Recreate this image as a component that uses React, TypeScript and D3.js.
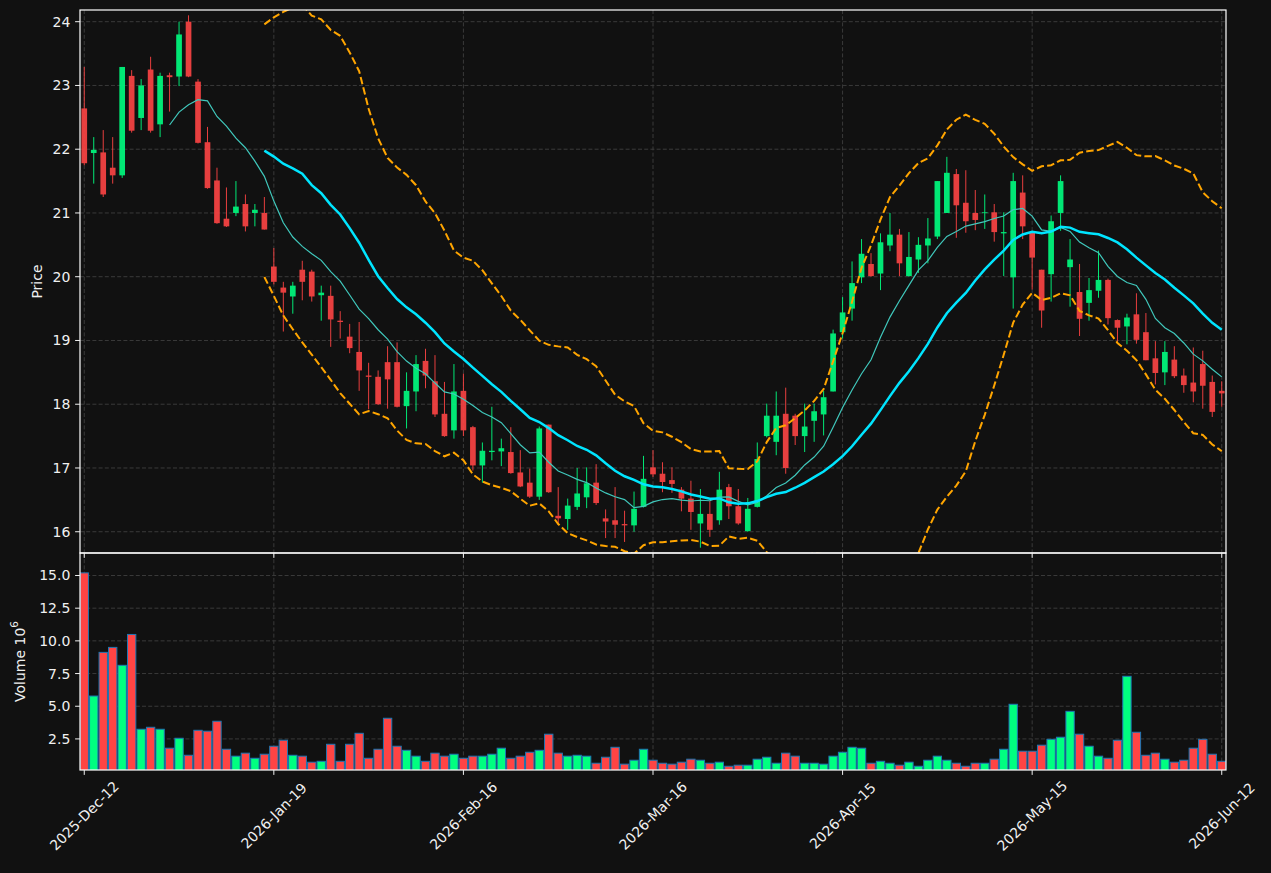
import React, { useEffect } from 'react';
import * as d3 from 'd3';

// ---- Data ----
const opens = [22.64, 21.94, 21.95, 21.71, 21.59, 23.15, 22.49, 23.25, 22.39, 23.16,
  23.14, 24.00, 23.06, 22.11, 21.51, 20.91, 21.00, 21.14, 21.00, 21.00,
  20.16, 19.83, 19.69, 20.11, 20.08, 19.71, 19.70, 19.31, 19.06, 18.82,
  18.45, 18.43, 18.66, 18.66, 17.97, 18.20, 18.68, 18.36, 17.85, 17.59,
  18.21, 17.64, 17.04, 17.25, 17.26, 17.25, 16.93, 16.77, 16.55, 17.68,
  16.25, 16.20, 16.39, 16.54, 16.77, 16.21, 16.18, 16.12, 16.10, 16.39,
  17.01, 16.91, 16.81, 16.66, 16.52, 16.13, 16.28, 16.18, 16.70, 16.40,
  16.01, 16.39, 17.50, 17.41, 17.85, 17.82, 17.50, 17.74, 17.84, 18.20,
  19.13, 19.50, 19.99, 20.20, 20.05, 20.49, 20.66, 20.01, 20.27, 20.49,
  20.63, 21.00, 21.61, 21.16, 21.00, 21.00, 21.01, 20.68, 19.99, 21.32,
  20.69, 20.11, 20.04, 21.00, 20.15, 19.76, 19.59, 19.78, 19.95, 19.32,
  19.22, 19.41, 19.13, 18.72, 18.50, 18.70, 18.45, 18.34, 18.63, 18.35,
  18.21];
const highs = [23.29, 22.19, 22.30, 22.19, 23.29, 23.24, 23.10, 23.45, 23.20, 23.20,
  24.00, 24.10, 23.10, 22.35, 21.71, 21.40, 21.50, 21.29, 21.14, 21.25,
  20.45, 19.92, 19.92, 20.25, 20.11, 19.86, 19.86, 19.46, 19.26, 19.29,
  18.65, 18.53, 18.91, 18.97, 18.50, 18.77, 18.87, 18.77, 18.35, 18.63,
  18.48, 17.66, 17.40, 17.96, 17.46, 17.64, 17.28, 16.99, 17.65, 17.68,
  16.70, 16.52, 17.00, 17.01, 17.06, 16.35, 16.70, 16.33, 16.63, 17.19,
  17.28, 17.09, 17.01, 16.70, 16.80, 16.67, 16.48, 16.94, 16.75, 16.67,
  16.53, 17.40, 18.01, 18.20, 18.26, 17.85, 18.01, 18.01, 18.21, 19.17,
  19.68, 20.24, 20.59, 20.37, 20.68, 21.00, 20.75, 20.70, 20.62, 20.92,
  21.50, 21.88, 21.69, 21.67, 21.36, 21.29, 21.14, 21.01, 21.63, 21.59,
  20.70, 20.11, 20.96, 21.59, 20.59, 20.20, 19.98, 20.41, 19.97, 19.33,
  19.42, 19.74, 19.43, 18.99, 18.99, 18.91, 18.56, 18.89, 18.84, 18.45,
  18.36];
const lows = [21.75, 21.46, 21.25, 21.46, 21.55, 22.26, 22.30, 22.26, 22.19, 22.59,
  22.99, 23.13, 22.09, 21.38, 20.83, 20.78, 20.95, 20.71, 20.79, 20.74,
  19.88, 19.14, 19.42, 19.63, 19.61, 19.31, 18.90, 19.03, 18.80, 18.21,
  17.92, 17.99, 17.93, 17.95, 17.62, 17.89, 18.25, 17.80, 17.49, 17.46,
  17.50, 16.96, 16.77, 17.12, 17.03, 16.91, 16.70, 16.53, 16.50, 16.61,
  16.11, 16.03, 16.34, 16.37, 16.42, 15.90, 15.90, 15.84, 16.00, 16.38,
  16.86, 16.62, 16.61, 16.32, 16.03, 15.75, 15.92, 16.11, 16.20, 16.11,
  16.00, 16.38, 17.48, 17.20, 16.91, 17.36, 17.25, 17.41, 17.51, 18.20,
  19.03, 19.31, 19.90, 20.00, 19.79, 20.40, 20.01, 20.00, 20.06, 20.21,
  20.59, 21.00, 20.61, 20.69, 20.73, 20.75, 20.55, 20.01, 19.50, 20.59,
  19.80, 19.20, 19.61, 20.72, 19.53, 19.07, 19.31, 19.67, 19.25, 18.98,
  18.94, 18.95, 18.69, 18.31, 18.30, 18.41, 18.18, 18.03, 17.93, 17.80,
  17.96];
const closes = [21.78, 21.99, 21.29, 21.59, 23.29, 22.29, 23.00, 22.29, 23.15, 23.13,
  23.80, 23.14, 22.10, 21.39, 20.84, 20.79, 21.10, 20.79, 21.05, 20.74,
  19.92, 19.75, 19.86, 19.92, 19.69, 19.75, 19.33, 19.29, 18.88, 18.53,
  18.43, 18.00, 18.39, 17.96, 18.21, 18.63, 18.45, 17.84, 17.50, 18.20,
  17.59, 17.04, 17.27, 17.27, 17.31, 16.92, 16.71, 16.55, 17.62, 16.62,
  16.21, 16.41, 16.60, 16.76, 16.45, 16.16, 16.11, 16.10, 16.36, 16.83,
  16.90, 16.78, 16.75, 16.52, 16.31, 16.28, 16.03, 16.66, 16.40, 16.13,
  16.36, 17.14, 17.82, 17.82, 17.00, 17.50, 17.65, 17.89, 18.11, 19.11,
  19.44, 19.90, 20.36, 20.01, 20.54, 20.66, 20.21, 20.31, 20.50, 20.60,
  21.50, 21.63, 21.12, 20.87, 20.89, 21.01, 20.70, 20.70, 21.50, 20.79,
  20.30, 19.47, 20.87, 21.50, 20.27, 19.34, 19.79, 19.95, 19.35, 19.20,
  19.36, 19.01, 18.69, 18.49, 18.82, 18.44, 18.30, 18.20, 18.29, 17.88,
  18.17];
// volume in millions
const volumes = [15.2, 5.78, 9.12, 9.50, 8.13, 10.49, 3.24, 3.39, 3.24, 1.79,
  2.55, 1.25, 3.16, 3.09, 3.85, 1.71, 1.18, 1.41, 1.02, 1.33,
  1.94, 2.40, 1.25, 1.18, 0.72, 0.79, 2.09, 0.79, 2.09, 2.93,
  1.02, 1.71, 4.08, 1.94, 1.63, 1.18, 0.79, 1.41, 1.18, 1.33,
  1.02, 1.18, 1.18, 1.33, 1.79, 1.02, 1.18, 1.48, 1.63, 2.86,
  1.41, 1.18, 1.25, 1.18, 0.64, 1.10, 1.86, 0.57, 0.87, 1.71,
  0.87, 0.64, 0.57, 0.72, 0.95, 0.87, 0.64, 0.72, 0.41, 0.49,
  0.49, 0.95, 1.10, 0.64, 1.41, 1.18, 0.64, 0.64, 0.57, 1.18,
  1.48, 1.86, 1.79, 0.64, 0.79, 0.64, 0.49, 0.72, 0.41, 0.87,
  1.18, 0.87, 0.64, 0.41, 0.64, 0.64, 0.95, 1.71, 5.15, 1.56,
  1.56, 2.02, 2.47, 2.63, 4.61, 2.86, 1.94, 1.18, 1.02, 2.40,
  7.29, 3.01, 1.25, 1.41, 0.95, 0.72, 0.87, 1.79, 2.47, 1.33,
  0.79];
const tickIndex = [0, 20, 40, 60, 80, 100, 120];
const tickLabels = ['2025-Dec-12', '2026-Jan-19', '2026-Feb-16', '2026-Mar-16', '2026-Apr-15', '2026-May-15', '2026-Jun-12'];
const priceTicks = [16, 17, 18, 19, 20, 21, 22, 23, 24];
const volumeTicks = [2.5, 5.0, 7.5, 10.0, 12.5, 15.0];
const shortPeriod = 10;
const longPeriod = 20;

// ---- Layout / style ----
const W = 1271, H = 873;
const L = 80, R = 1226, PT = 10, PB = 553, VB = 770;
const BG = '#111111';
const UP = '#00ff80';
const DOWN = '#ff4444';
const TXT = '#f0f0f0';
const GRID = '#3a3a3a';
const FONT = 'DejaVu Sans, sans-serif';
const FS = 14;

function sma(vals: number[], p: number): (number | null)[] {
  return vals.map((_, i) => (i < p - 1 ? null : d3.mean(vals.slice(i - p + 1, i + 1)) as number));
}
function sstd(vals: number[], p: number): (number | null)[] {
  return vals.map((_, i) => (i < p - 1 ? null : d3.deviation(vals.slice(i - p + 1, i + 1)) as number));
}

export default function App() {
  useEffect(() => {
    document.body.style.margin = '0';
    document.body.style.background = BG;
  }, []);

  const n = closes.length;
  const x = d3.scaleLinear().domain([-0.45, n - 1 + 0.45]).range([L, R]);
  const lo = d3.min(lows) as number, hi = d3.max(highs) as number;
  const pad = (hi - lo) * 0.01;
  const y = d3.scaleLinear().domain([lo - pad, hi + pad]).range([PB, PT]);
  const vy = d3.scaleLinear()
    .domain([0.3 * (d3.min(volumes) as number), 1.1 * (d3.max(volumes) as number)])
    .range([VB, PB]);
  const step = x(1) - x(0);
  const bodyW = step * 0.6;
  const volW = step * 0.88;

  const maS = sma(closes, shortPeriod);
  const maL = sma(closes, longPeriod);
  const sd = sstd(closes, longPeriod);
  const upper = maL.map((m, i) => (m == null ? null : m + 2 * (sd[i] as number)));
  const lower = maL.map((m, i) => (m == null ? null : m - 2 * (sd[i] as number)));

  const line = d3.line<number | null>()
    .defined(d => d != null)
    .x((_, i) => x(i))
    .y(d => y(d as number));

  return (
    <div style={{ position: 'absolute', left: 0, top: 0 }}>
      <svg width={W} height={H} style={{ display: 'block', background: BG }}>
        <defs>
          <clipPath id="pclip"><rect x={L} y={PT} width={R - L} height={PB - PT} /></clipPath>
          <clipPath id="vclip"><rect x={L} y={PB} width={R - L} height={VB - PB} /></clipPath>
        </defs>
        <rect x={0} y={0} width={W} height={H} fill={BG} />

        {/* grid */}
        <g stroke={GRID} strokeWidth={1} strokeDasharray="4,2.2">
          {priceTicks.map(t => (
            <line key={'pg' + t} x1={L} x2={R} y1={y(t)} y2={y(t)} />
          ))}
          {volumeTicks.map(t => (
            <line key={'vg' + t} x1={L} x2={R} y1={vy(t)} y2={vy(t)} />
          ))}
          {tickIndex.map(i => (
            <g key={'xg' + i}>
              <line x1={x(i)} x2={x(i)} y1={PT} y2={PB} />
              <line x1={x(i)} x2={x(i)} y1={PB} y2={VB} />
            </g>
          ))}
        </g>

        {/* candles */}
        <g clipPath="url(#pclip)">
          {closes.map((c, i) => {
            const o = opens[i];
            const col = c >= o ? UP : DOWN;
            const top = y(Math.max(o, c));
            const bot = y(Math.min(o, c));
            return (
              <g key={'c' + i} opacity={0.9}>
                <line x1={x(i)} x2={x(i)} y1={y(highs[i])} y2={y(lows[i])} stroke={col} strokeWidth={1} />
                <rect x={x(i) - bodyW / 2} y={top} width={bodyW} height={Math.max(bot - top, 0.8)} fill={col} />
              </g>
            );
          })}
          <path d={line(upper) || ''} fill="none" stroke="#ffa500" strokeWidth={2} strokeDasharray="7.5,3.2" />
          <path d={line(lower) || ''} fill="none" stroke="#ffa500" strokeWidth={2} strokeDasharray="7.5,3.2" />
          <path d={line(maS) || ''} fill="none" stroke="#40c8bc" strokeWidth={1.2} />
          <path d={line(maL) || ''} fill="none" stroke="#00e5ff" strokeWidth={2.5} />
        </g>

        {/* volume */}
        <g clipPath="url(#vclip)">
          {volumes.map((v, i) => (
            <rect key={'v' + i} x={x(i) - volW / 2} y={vy(v)} width={volW} height={VB - vy(v) + 2}
              fill={closes[i] >= opens[i] ? UP : DOWN} stroke="#1f77b4" strokeWidth={1} />
          ))}
        </g>

        {/* frames */}
        <rect x={L} y={PT} width={R - L} height={PB - PT} fill="none" stroke="#ffffff" strokeWidth={1.2} />
        <rect x={L} y={PB} width={R - L} height={VB - PB} fill="none" stroke="#ffffff" strokeWidth={1.2} />

        {/* ticks and labels */}
        <g fontFamily={FONT} fontSize={FS} fill={TXT}>
          {priceTicks.map(t => (
            <g key={'pt' + t}>
              <line x1={L - 4.9} x2={L} y1={y(t)} y2={y(t)} stroke={TXT} strokeWidth={1} />
              <text x={L - 9.7} y={y(t)} textAnchor="end" dominantBaseline="central">{t}</text>
            </g>
          ))}
          {volumeTicks.map(t => (
            <g key={'vt' + t}>
              <line x1={L - 4.9} x2={L} y1={vy(t)} y2={vy(t)} stroke={TXT} strokeWidth={1} />
              <text x={L - 9.7} y={vy(t)} textAnchor="end" dominantBaseline="central">{t.toFixed(1)}</text>
            </g>
          ))}
          {tickIndex.map((i, k) => (
            <g key={'xt' + i}>
              <line x1={x(i)} x2={x(i)} y1={VB} y2={VB + 4.9} stroke={TXT} strokeWidth={1} />
              <line x1={x(i)} x2={x(i)} y1={PB} y2={PB + 4.9} stroke={TXT} strokeWidth={1} />
              <text transform={`translate(${x(i)},${VB + 9.7 + 36}) rotate(-45)`} textAnchor="middle" dominantBaseline="central">
                {tickLabels[k]}
              </text>
            </g>
          ))}
          <text transform={`translate(37,${(PT + PB) / 2}) rotate(-90)`} textAnchor="middle" dominantBaseline="central">Price</text>
          <text transform={`translate(20,${(PB + VB) / 2}) rotate(-90)`} textAnchor="middle" dominantBaseline="central">
            Volume  10<tspan dy={-6} fontSize={FS * 0.75}>6</tspan>
          </text>
        </g>
      </svg>
    </div>
  );
}
